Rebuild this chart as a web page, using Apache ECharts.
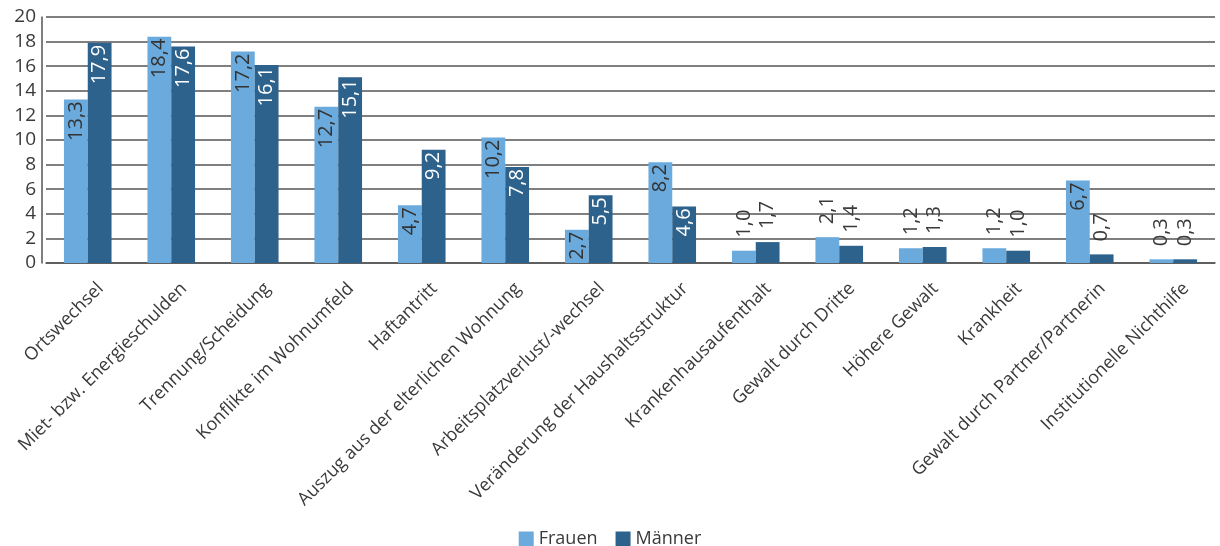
<!DOCTYPE html>
<html><head><meta charset="utf-8">
<script src="https://cdn.jsdelivr.net/npm/echarts@6/dist/echarts.min.js"></script>
<style>html,body{margin:0;padding:0;background:#fff}#c{width:1220px;height:546px}</style>
</head><body><div id="c"></div>
<script>
const categories = ["Ortswechsel","Miet- bzw. Energieschulden","Trennung/Scheidung","Konflikte im Wohnumfeld","Haftantritt","Auszug aus der elterlichen Wohnung","Arbeitsplatzverlust/-wechsel","Veränderung der Haushaltsstruktur","Krankenhausaufenthalt","Gewalt durch Dritte","Höhere Gewalt","Krankheit","Gewalt durch Partner/Partnerin","Institutionelle Nichthilfe"];
const frauen = [13.3,18.4,17.2,12.7,4.7,10.2,2.7,8.2,1.0,2.1,1.2,1.2,6.7,0.3];
const maenner = [17.9,17.6,16.1,15.1,9.2,7.8,5.5,4.6,1.7,1.4,1.3,1.0,0.7,0.3];
const seriesNames = ["Frauen","Männer"];
const yTicks = {min:0,max:20,interval:2};

const FONT = "Open Sans";
const TXT = '#3a3a3a';
const fmt = v => v.toFixed(1).replace('.', ',');
function build(vals, insideColor){
  return vals.map(v => {
    const inside = v >= 2.5;
    return {
      value: v,
      label: inside ? {
        position:'insideTop', rotate:90, align:'right', verticalAlign:'middle', distance:2,
        color: insideColor
      } : {
        position:'top', rotate:90, align:'left', verticalAlign:'middle', distance:13,
        color: TXT
      }
    };
  });
}
const chart = echarts.init(document.getElementById('c'));
chart.setOption({
  animation:false,
  textStyle:{fontFamily:FONT},
  grid:{left:46,right:5,top:17,bottom:283,containLabel:false},
  legend:{top:525,left:'center',itemWidth:15,itemHeight:15,itemGap:18,icon:'rect',
    textStyle:{fontFamily:FONT,fontSize:18,color:TXT},data:seriesNames},
  xAxis:{type:'category',data:categories,
    axisLine:{lineStyle:{color:'#555',width:1.5}},
    axisTick:{length:5,lineStyle:{color:'#555',width:1.5}},
    axisLabel:{rotate:45,interval:0,margin:10,fontSize:18,color:TXT,fontFamily:FONT,
      verticalAlign:'top',padding:[9,0,0,0]}},
  yAxis:{type:'value',min:yTicks.min,max:yTicks.max,interval:yTicks.interval,offset:4,
    axisLine:{show:true,lineStyle:{color:'#555',width:1.5}},
    axisTick:{show:false},
    splitLine:{lineStyle:{color:'#555',width:1.5}},
    axisLabel:{fontSize:19,color:TXT,margin:6,fontFamily:FONT}},
  series:[
    {name:seriesNames[0],type:'bar',data:build(frauen,'#333'),barGap:'0%',barCategoryGap:'43%',
     itemStyle:{color:'#6aaadc'},
     label:{show:true,fontSize:20,fontFamily:FONT,formatter:p=>fmt(p.value)}},
    {name:seriesNames[1],type:'bar',data:build(maenner,'#fff'),
     itemStyle:{color:'#2d628d'},
     label:{show:true,fontSize:20,fontFamily:FONT,formatter:p=>fmt(p.value)}}
  ]
});
</script></body></html>
